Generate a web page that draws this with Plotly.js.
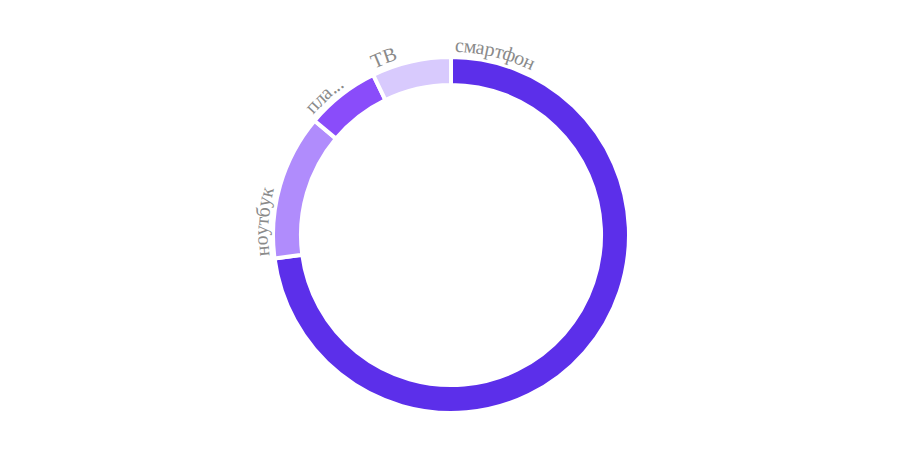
<!DOCTYPE html>
<html><head><meta charset="utf-8">
<script src="https://cdn.plot.ly/plotly-3.0.1.min.js"></script>
<style>html,body{margin:0;padding:0;background:#fff;}</style>
</head><body>
<div id="chart" style="width:900px;height:470px;"></div>
<script>
const labels = ['смартфон', 'ноутбук', 'планшет', 'ТВ'];
const values = [72.9, 13.2, 6.7, 7.2];
const colors = ['#5c2fea', '#b08cfc', '#8a4cfa', '#d8cafd'];

const W = 900, H = 470;
const M = {l: 2, r: 0, t: 57, b: 57};
const pw = W - M.l - M.r, ph = H - M.t - M.b;
const R = Math.min(pw, ph) / 2;
const cx = M.l + pw / 2, cy = M.t + ph / 2;

const FONT_SIZE = 20;
const FONT_FAMILY = '"Liberation Serif", "Times New Roman", serif';
const TEXT_COLOR = '#8a8a8a';
const textR = R + 12;

const ctx = document.createElement('canvas').getContext('2d');
ctx.font = FONT_SIZE + 'px ' + FONT_FAMILY;
const mw = s => ctx.measureText(s).width;

const total = values.reduce((a, b) => a + b, 0);
const annotations = [];
let cum = 0;
labels.forEach((lab, i) => {
  const startDeg = cum / total * 360;
  const spanDeg = values[i] / total * 360;
  cum += values[i];
  const arcLen = spanDeg * Math.PI / 180 * textR;
  let txt = lab;
  if (mw(txt) > arcLen * 0.75) {
    let n = lab.length;
    while (n > 1 && mw(lab.slice(0, n) + '...') > arcLen * 0.6) n--;
    txt = lab.slice(0, n) + '...';
  }
  let s = 4; // padding px
  for (const ch of txt) {
    const w = mw(ch);
    const ang = startDeg + (s + w / 2) / textR * 180 / Math.PI;
    const a = ang * Math.PI / 180;
    const px = cx + textR * Math.sin(a);
    const py = cy - textR * Math.cos(a);
    annotations.push({
      text: ch, showarrow: false, xref: 'paper', yref: 'paper',
      x: (px - M.l) / pw, y: 1 - (py - M.t) / ph,
      xanchor: 'center', yanchor: 'middle', textangle: ang,
      borderpad: 0,
      font: {family: FONT_FAMILY, size: FONT_SIZE, color: TEXT_COLOR}
    });
    s += w;
  }
});

const data = [{
  type: 'pie', labels: labels, values: values, hole: 0.843,
  sort: false, direction: 'clockwise', rotation: 0,
  marker: {colors: colors, line: {color: '#ffffff', width: 4}},
  textinfo: 'none', hoverinfo: 'label+value', showlegend: false
}];
const layout = {
  width: W, height: H, margin: M, showlegend: false,
  paper_bgcolor: '#ffffff', plot_bgcolor: '#ffffff',
  annotations: annotations
};
Plotly.newPlot('chart', data, layout, {displayModeBar: false, staticPlot: true});
</script>
</body></html>
